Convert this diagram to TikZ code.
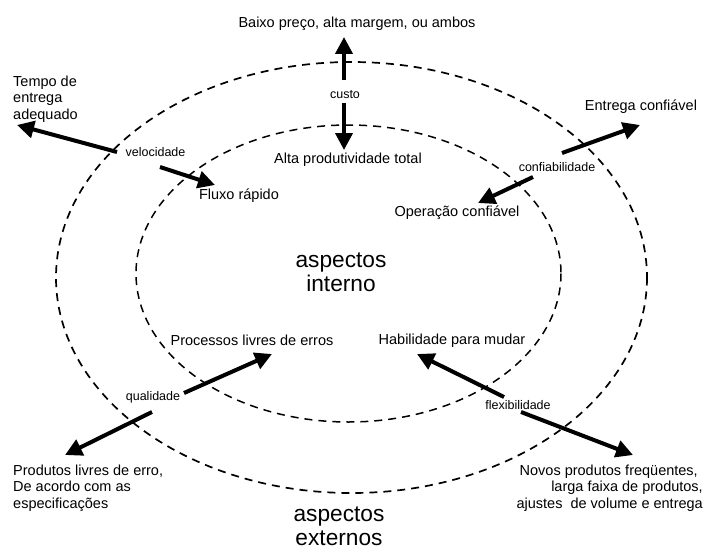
\documentclass[tikz,border=0pt]{standalone}
\usepackage{fontspec}
\setmainfont{Liberation Sans}
\usetikzlibrary{arrows.meta}
\begin{document}
\begin{tikzpicture}[x=1pt,y=-1pt,
  ring/.style={draw=black, line width=1.7pt, dash pattern=on 8pt off 6pt},
  arr/.style={line width=4pt, -{Triangle[length=17pt,width=17pt]}},
  txt/.style={inner sep=0pt, font=\fontsize{14.5}{16.5}\selectfont},
  lbl/.style={inner sep=0pt, font=\fontsize{12.5}{14}\selectfont},
  big/.style={inner sep=0pt, align=center, font=\fontsize{22.7}{24.5}\selectfont}]
\useasboundingbox (0,0) rectangle (711,551);
\fill[white] (0,0) rectangle (711,551);

% outer and inner rings
\draw[ring] (351.5,277.5) ellipse [x radius=295.5, y radius=215.5];
\draw[ring, line width=1.5pt] (348.5,273.5) ellipse [x radius=212.5, y radius=148.5];

% texts
\node[txt] (baixo) at (357,23.5) {Baixo preço, alta margem, ou ambos};
\node[lbl] (custo) at (345,95) {custo};
\node[txt] (alta) at (348,160) {Alta produtividade total};
\node[txt, align=left, anchor=west] (tempo) at (13,99) {Tempo de\\entrega\\adequado};
\node[lbl] (vel) at (155.5,152) {velocidade};
\node[txt] (fluxo) at (239,196) {Fluxo rápido};
\node[txt] (entrega) at (641,107) {Entrega confiável};
\node[lbl] (conf) at (557,167) {confiabilidade};
\node[txt] (oper) at (457,213) {Operação confiável};
\node[big] (interno) at (341,272.5) {aspectos\\interno};
\node[txt] (proc) at (252,340) {Processos livres de erros};
\node[lbl] (qual) at (153,397) {qualidade};
\node[txt, align=left, anchor=west] (prodlivres) at (13,488) {Produtos livres de erro,\\De acordo com as\\especificações};
\node[txt] (habil) at (452,341) {Habilidade para mudar};
\node[lbl] (flex) at (518,405) {flexibilidade};
\node[txt, align=right, anchor=east] (novos) at (703,488) {Novos produtos freqüentes,\hspace*{5pt}\\larga faixa de produtos,\hspace*{5pt}\\ajustes\ \ de volume e entrega};
\node[big, text depth=0pt, anchor=south] (externo) at (339,546) {aspectos\\externos};

% arrow end points
\coordinate (cu-a) at (344,80);   \coordinate (cu-b) at (344,37);
\coordinate (cd-a) at (344,103);  \coordinate (cd-b) at (344,150);
\coordinate (vo-a) at (117,152);  \coordinate (vo-b) at (17,125);
\coordinate (vi-a) at (160,167);  \coordinate (vi-b) at (215,185);
\coordinate (ro-a) at (562,153);  \coordinate (ro-b) at (640,125);
\coordinate (ri-a) at (533,177);  \coordinate (ri-b) at (478,203);
\coordinate (qi-a) at (184,393);  \coordinate (qi-b) at (272,354);
\coordinate (qo-a) at (152,412);  \coordinate (qo-b) at (65,455);
\coordinate (fi-a) at (504,397);  \coordinate (fi-b) at (417,354);
\coordinate (fo-a) at (521,412);  \coordinate (fo-b) at (633,455);

% arrows
\draw[arr] (cu-a) -- (cu-b);
\draw[arr] (cd-a) -- (cd-b);
\draw[arr] (vo-a) -- (vo-b);
\draw[arr] (vi-a) -- (vi-b);
\draw[arr] (ro-a) -- (ro-b);
\draw[arr] (ri-a) -- (ri-b);
\draw[arr] (qi-a) -- (qi-b);
\draw[arr] (qo-a) -- (qo-b);
\draw[arr] (fi-a) -- (fi-b);
\draw[arr] (fo-a) -- (fo-b);
\end{tikzpicture}
\end{document}
